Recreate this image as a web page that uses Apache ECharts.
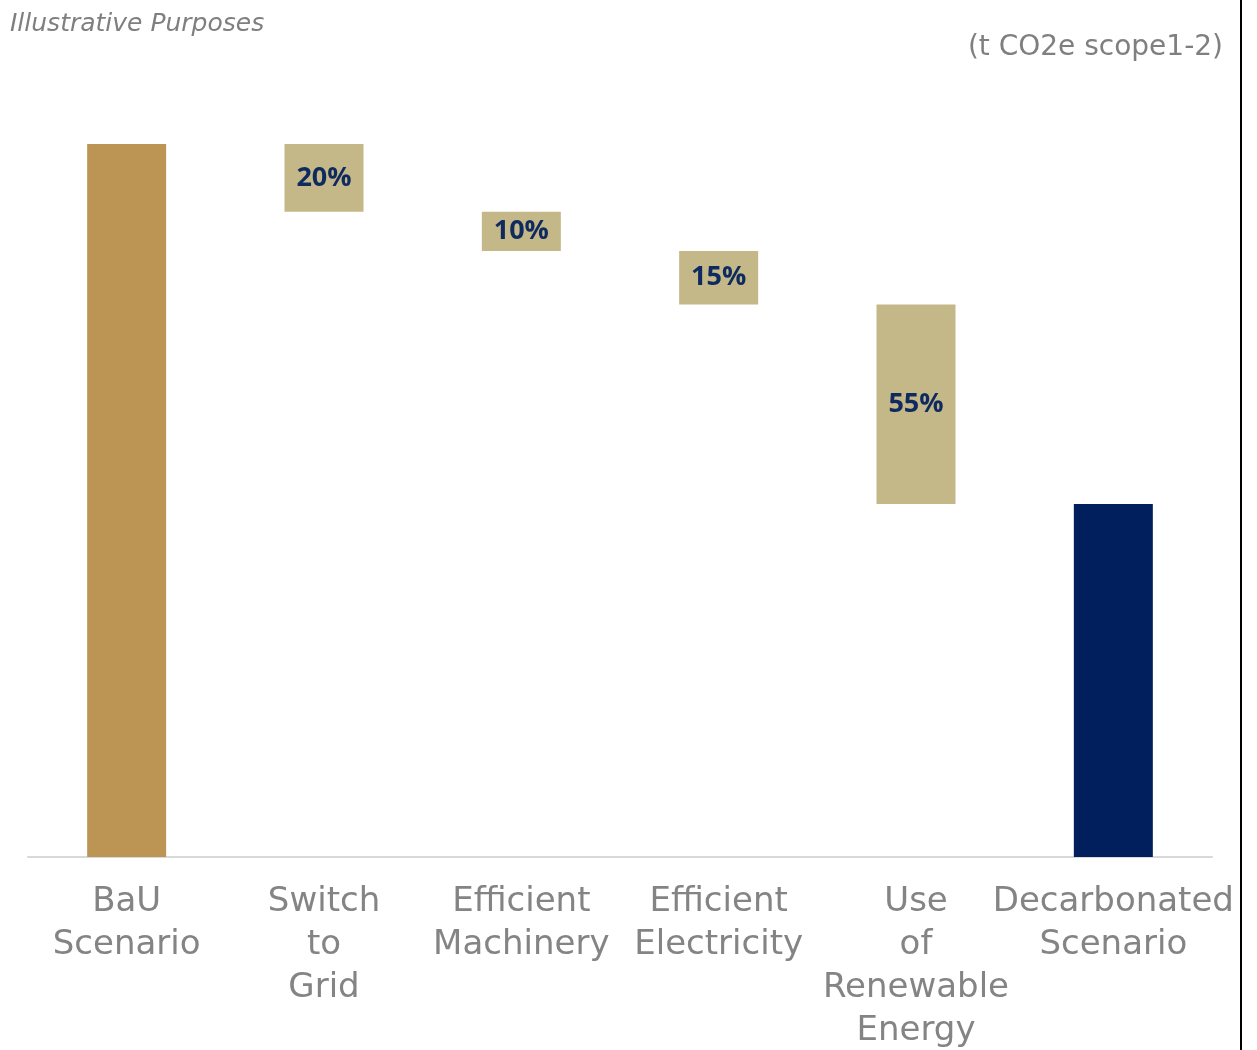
<!DOCTYPE html>
<html>
<head>
<meta charset="utf-8">
<script src="https://cdn.jsdelivr.net/npm/echarts@6/dist/echarts.min.js"></script>
<style>
  html, body { margin: 0; padding: 0; background: #fff; }
  #main { width: 1257px; height: 1050px; }
</style>
</head>
<body>
<div id="main"></div>
<script>
// waterfall data (t CO2e, BaU = 100)
let categories = ['BaU Scenario', 'Switch to Grid', 'Efficient Machinery', 'Efficient Electricity', 'Use of Renewable Energy', 'Decarbonated Scenario'];
let bauValue = 100;
let reductions = [9.5, 5.5, 7.5, 28];
let shareLabels = ['20%', '10%', '15%', '55%'];

let colorBau = '#bc9555';
let colorStep = '#c4b888';
let colorFinal = '#001f5c';

let chart = null;

function buildSeries() {
    let base = [0];
    let visible = [{ value: bauValue, itemStyle: { color: colorBau } }];
    let running = bauValue;
    reductions.forEach(function (r, i) {
        running -= r;
        base.push(running);
        visible.push({
            value: r,
            itemStyle: { color: colorStep },
            label: { show: true, formatter: shareLabels[i] }
        });
    });
    base.push(0);
    visible.push({ value: running, itemStyle: { color: colorFinal } });
    return { base: base, visible: visible };
}

function drawChart() {
    chart = echarts.init(document.getElementById('main'));
    let s = buildSeries();

    let option = {
        backgroundColor: '#fff',
        animation: false,
        grid: { left: 28, right: 45, top: 144, bottom: 193, outerBoundsMode: 'none' },
        graphic: [{
            type: 'text', left: 10, top: 12,
            style: { text: 'Illustrative Purposes', font: 'italic 25px "DejaVu Sans"', fill: '#7f7f7f' }
        }, {
            type: 'text', right: 34, top: 34,
            style: { text: '(t CO2e scope1-2)', font: '28px "DejaVu Sans"', fill: '#7f7f7f' }
        }, {
            type: 'line', shape: { x1: 1241, y1: 0, x2: 1241, y2: 1050 },
            style: { stroke: '#000', lineWidth: 2 }
        }],
        xAxis: {
            type: 'category',
            data: categories,
            axisTick: { show: false },
            axisLine: { lineStyle: { color: '#d9d9d9', width: 2 } },
            axisLabel: {
                interval: 0,
                margin: 24,
                color: '#848484',
                fontFamily: 'DejaVu Sans',
                fontSize: 34,
                lineHeight: 43,
                formatter: function (v) { return v.split(' ').join('\n'); }
            }
        },
        yAxis: {
            type: 'value',
            min: 0,
            max: bauValue,
            show: false,
            splitLine: { show: false }
        },
        series: [{
            type: 'bar',
            stack: 'w',
            barWidth: 79,
            itemStyle: { color: 'transparent' },
            data: s.base,
            silent: true
        }, {
            type: 'bar',
            stack: 'w',
            barWidth: 79,
            data: s.visible,
            label: {
                show: false,
                position: 'inside',
                color: '#0f2a5f',
                fontWeight: 'bold',
                fontFamily: 'Open Sans',
                fontSize: 27
            }
        }]
    };
    chart.setOption(option, true);
}

window.addEventListener('load', drawChart, false);
</script>
</body>
</html>
